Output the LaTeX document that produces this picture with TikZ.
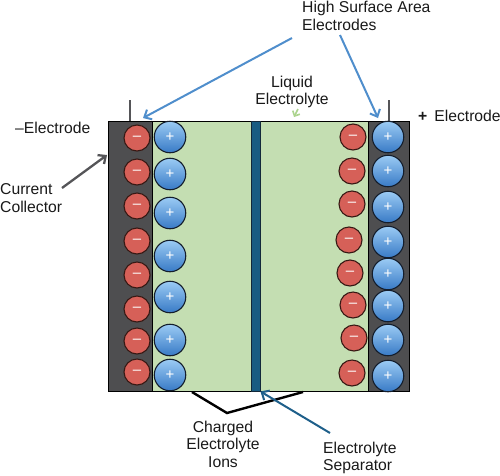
\documentclass[tikz,border=0pt]{standalone}
\usepackage{fontspec}
\setmainfont{Liberation Sans}
\usetikzlibrary{arrows.meta}
\definecolor{collector}{RGB}{78,78,80}
\definecolor{electrolyte}{RGB}{196,222,178}
\definecolor{sepfill}{RGB}{24,92,130}
\definecolor{sepedge}{RGB}{18,40,58}
\definecolor{ionred}{RGB}{214,96,88}
\definecolor{ionredline}{RGB}{55,25,20}
\definecolor{ionbluetop}{RGB}{155,203,244}
\definecolor{ionbluebot}{RGB}{56,122,198}
\definecolor{ionblueline}{RGB}{20,30,45}
\definecolor{arrowblue}{RGB}{79,142,204}
\definecolor{arrowgray}{RGB}{85,85,88}
\definecolor{arrowteal}{RGB}{30,95,138}
\definecolor{arrowgreen}{RGB}{172,212,142}
\begin{document}
\begin{tikzpicture}[x=1pt,y=-1pt,
  lbl/.style={inner sep=0pt, font=\fontsize{15.7}{17.5}\selectfont, text=black!90},
  negion/.style={circle, inner sep=0pt, minimum size=26pt, fill=ionred, draw=ionredline, line width=1.1pt,
     text=white, font=\fontsize{15}{15}\selectfont},
  posion/.style={circle, inner sep=0pt, minimum size=31.5pt, top color=ionbluetop, bottom color=ionbluebot,
     draw=ionblueline, line width=1.1pt, text=white, font=\fontsize{15}{15}\selectfont},
  tip/.style={-{Straight Barb[length=6pt,width=11pt]}},
  terminal/.style={draw=arrowgray, line width=1.6pt}]
\useasboundingbox (0,0) rectangle (500,475);

% cell body
\fill[electrolyte] (152,121) rectangle (368,391);
\fill[collector] (108,121) rectangle (152,391);
\fill[collector] (368,121) rectangle (409,391);
\draw[black, line width=1pt] (108,121) rectangle (409,391);
\draw[black, line width=1pt] (152,121) -- (152,391);
\draw[black, line width=1pt] (368,121) -- (368,391);
\node[draw=sepedge, fill=sepfill, line width=1pt, inner sep=0pt, minimum width=9pt, minimum height=270pt] (sep) at (255.5,256) {};

% terminals
\coordinate (tl) at (130,100); \coordinate (tlb) at (130,121);
\coordinate (tr) at (389,100); \coordinate (trb) at (389,121);
\draw[terminal] (tl) -- (tlb);
\draw[terminal] (tr) -- (trb);

% left negative charges on collector
\foreach \y [count=\i] in {138,172,206,241,275,309,341,372}
  \node[negion] (ln\i) at (137,\y) {–};
% left positive ions
\foreach \y [count=\i] in {137,174,213,256,297,340,375}
  \node[posion] (lp\i) at (170,\y) {+};
% right negative ions
\foreach \x/\y [count=\i] in {353/137,352/171,352/204,349/240,350/273,353/305,354/338,352/373}
  \node[negion] (rn\i) at (\x,\y) {–};
% right positive charges on collector
\foreach \y [count=\i] in {137,171,207,242,274,306,340,376}
  \node[posion] (rp\i) at (388,\y) {+};

% labels
\node[lbl, anchor=base west] (negE) at (15,133) {–Electrode};
\node[lbl, anchor=base west] (posE) at (418,121) {\textbf{+}\, Electrode};
\node[lbl, anchor=north west, align=left] (cc) at (0,183.8) {Current\\Collector};
\node[lbl, anchor=north west, align=left] (hsa) at (302,1) {High Surface Area\\Electrodes};
\node[lbl, anchor=north, align=center] (liq) at (292,75.8) {Liquid\\Electrolyte};
\node[lbl, anchor=north, align=center] (ions) at (223,420.6) {Charged\\Electrolyte\\Ions};
\node[lbl, anchor=north west, align=left] (sepl) at (323,441.6) {Electrolyte\\Separator};

% connectors
\coordinate (ccs) at (62,188); \coordinate (cce) at (107,155);
\draw[tip, draw=arrowgray, line width=2.3pt] (ccs) -- (cce);

\coordinate (h1s) at (292,38); \coordinate (h1e) at (143,118);
\coordinate (h2s) at (340,35); \coordinate (h2e) at (378,118);
\draw[tip, draw=arrowblue, line width=2pt] (h1s) -- (h1e);
\draw[tip, draw=arrowblue, line width=2pt] (h2s) -- (h2e);

\coordinate (ls) at (298,109); \coordinate (le) at (294,117);
\draw[-{Straight Barb[length=4pt,width=8pt]}, draw=arrowgreen, line width=1.6pt] (ls) -- (le);

\coordinate (b1) at (192,392); \coordinate (b2) at (227,413); \coordinate (b3) at (303,392);
\draw[black, line width=2.4pt, line join=miter] (b1) -- (b2) -- (b3);

\coordinate (ss) at (330,433);
\draw[tip, draw=arrowteal, line width=2pt] (ss) -- (sep.south east);
\end{tikzpicture}
\end{document}
